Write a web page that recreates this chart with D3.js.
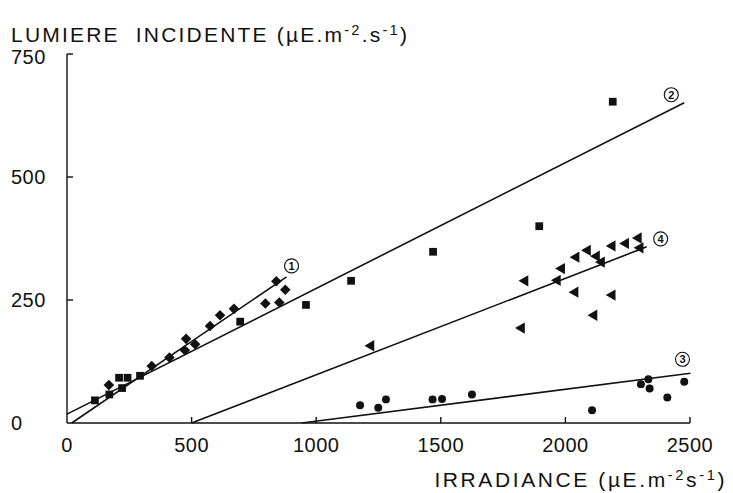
<!DOCTYPE html>
<html>
<head>
<meta charset="utf-8">
<script src="https://cdn.jsdelivr.net/npm/d3@7"></script>
<style>
  body { margin: 0; background: #fff; }
  svg text { font-family: "Liberation Sans", Arial, sans-serif; fill: #111; }
</style>
</head>
<body>
<svg id="chart" width="733" height="493"></svg>
<script>
// series 1 : diamonds
const diamonds = [
  [168, 77], [340, 116], [411, 133], [478, 171], [473, 148], [514, 160],
  [574, 197], [614, 219], [670, 232], [796, 243], [852, 245], [840, 288], [876, 271]
];
// series 2 : squares
const squares = [
  [112, 46], [170, 58], [221, 71], [209, 92], [243, 92], [293, 96], [695, 206],
  [959, 240], [1140, 289], [1469, 348], [1895, 400], [2190, 653]
];
// series 3 : circles
const circles = [
  [1176, 36], [1249, 31], [1280, 48], [1467, 48], [1505, 49], [1625, 58],
  [2107, 26], [2303, 79], [2333, 89], [2338, 70], [2409, 52], [2477, 84]
];
// series 4 : triangles
const triangles = [
  [1220, 157], [1824, 193], [1838, 289], [1968, 290], [1985, 314], [2039, 266],
  [2043, 337], [2089, 351], [2115, 219], [2125, 339], [2145, 327], [2188, 360],
  [2188, 260], [2242, 365], [2293, 376], [2300, 356]
];

// fitted lines (start / end in data units)
const fitLines = [
  { id: "1", pts: [[19, 0], [881, 297]] },
  { id: "2", pts: [[0, 18], [2477, 651]] },
  { id: "3", pts: [[942, 0], [2502, 101]] },
  { id: "4", pts: [[500, 0], [2326, 358]] }
];
// where the circled number sits, relative to the line end (px)
const labelOffsets = { "1": [5, -11], "2": [-13, -8], "3": [-8, -14], "4": [14, -8] };

const xTicks = [0, 500, 1000, 1500, 2000, 2500];
const yTicks = [0, 250, 500, 750];

const svg = d3.select("#chart");
const x = d3.scaleLinear().domain([0, 2500]).range([67, 690]);
const y = d3.scaleLinear().domain([0, 750]).range([423, 54]);

// axes drawn by hand to get the inward ticks
const axisG = svg.append("g").attr("stroke", "#111").attr("stroke-width", 1.4).attr("fill", "none");
axisG.append("line").attr("x1", x(0)).attr("x2", x(0)).attr("y1", y(0)).attr("y2", y(750));
axisG.append("line").attr("x1", x(0)).attr("x2", x(2500)).attr("y1", y(0)).attr("y2", y(0));
axisG.selectAll(".yt").data(yTicks.filter(d => d > 0)).join("line")
  .attr("x1", x(0)).attr("x2", x(0) + 6).attr("y1", d => y(d)).attr("y2", d => y(d));
axisG.selectAll(".xt").data(xTicks.filter(d => d > 0)).join("line")
  .attr("x1", d => x(d)).attr("x2", d => x(d)).attr("y1", y(0)).attr("y2", y(0) - 6);

svg.selectAll(".ylab").data(yTicks).join("text")
  .attr("x", 11).attr("y", d => y(d) + 7 + (d === 750 ? 3 : 0))
  .attr("font-size", 20).attr("letter-spacing", 0.5).text(d => d);
svg.selectAll(".xlab").data(xTicks).join("text")
  .attr("x", d => x(d)).attr("y", 452).attr("text-anchor", "middle")
  .attr("font-size", 20).attr("letter-spacing", 0.5).text(d => d);

// text with superscripts: parts are [string, isSup]
function richText(g, parts, size) {
  let t = g.append("text").attr("font-size", size);
  let up = false;
  for (let p of parts) {
    let s = t.append("tspan").text(p[0]);
    if (p[1] && !up) { s.attr("dy", -7).attr("font-size", size * 0.7); up = true; }
    else if (p[1]) { s.attr("font-size", size * 0.7); }
    else if (!p[1] && up) { s.attr("dy", 7); up = false; }
  }
  return t;
}

richText(svg, [["LUMIERE\u00A0\u00A0INCIDENTE (\u00B5E.m"], ["-2", 1], [".s"], ["-1", 1], [")"]], 21)
  .attr("x", 11).attr("y", 42).attr("letter-spacing", 2.2);
richText(svg, [["IRRADIANCE (\u00B5E.m"], ["-2", 1], ["s"], ["-1", 1], [")"]], 21)
  .attr("x", 727).attr("y", 487).attr("text-anchor", "end").attr("letter-spacing", 2.6);

// fit lines
const line = d3.line().x(d => x(d[0])).y(d => y(d[1]));
svg.append("g").selectAll("path").data(fitLines).join("path")
  .attr("d", d => line(d.pts)).attr("fill", "none").attr("stroke", "#111").attr("stroke-width", 1.6);

// circled numbers
const lab = svg.append("g").selectAll("g").data(fitLines).join("g")
  .attr("transform", d => {
    let e = d.pts[1], o = labelOffsets[d.id];
    return "translate(" + (x(e[0]) + o[0]) + "," + (y(e[1]) + o[1]) + ")";
  });
lab.append("circle").attr("r", 7).attr("fill", "#fff").attr("stroke", "#111").attr("stroke-width", 1.1);
lab.append("text").attr("text-anchor", "middle").attr("dy", 4).attr("font-size", 11)
  .attr("font-weight", "bold").text(d => d.id);

// markers
function drawPoints(data, type, size, rot) {
  svg.append("g").selectAll("path").data(data).join("path")
    .attr("d", d3.symbol().type(type).size(size))
    .attr("transform", d => "translate(" + x(d[0]) + "," + y(d[1]) + ") rotate(" + rot + ")")
    .attr("fill", "#111");
}
drawPoints(diamonds, d3.symbolSquare, 56, 45);
drawPoints(squares, d3.symbolSquare, 60, 0);
drawPoints(circles, d3.symbolCircle, 50, 0);
drawPoints(triangles, d3.symbolTriangle, 55, -90);
</script>
</body>
</html>
